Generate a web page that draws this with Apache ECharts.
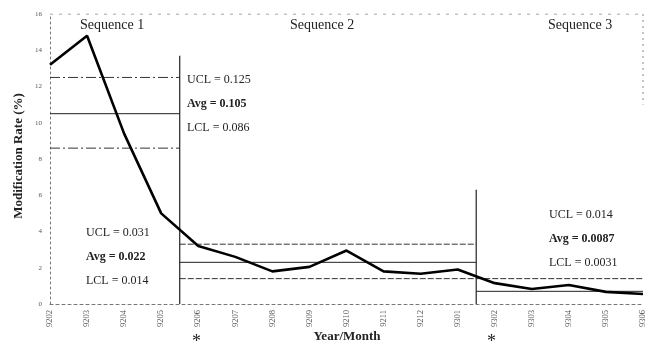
<!DOCTYPE html>
<html>
<head>
<meta charset="utf-8">
<script src="https://cdn.jsdelivr.net/npm/echarts@6/dist/echarts.min.js"></script>
<style>
html,body{margin:0;padding:0;background:#fff;}
#c{width:655px;height:348px;}
</style>
</head>
<body>
<div id="c"></div>
<script>
// Data
const categories = ['9202','9203','9204','9205','9206','9207','9208','9209','9210','9211','9212','9301','9302','9303','9304','9305','9306'];
const rate = [13.2, 14.8, 9.4, 5.0, 3.2, 2.6, 1.8, 2.05, 2.95, 1.8, 1.67, 1.9, 1.15, 0.83, 1.05, 0.67, 0.55];
const seqBounds = [0, 3.5, 11.5, 16];
const seqNames = ['Sequence 1', 'Sequence 2', 'Sequence 3'];
const uclVals = [12.5, 3.3, 1.4];
const avgVals = [10.5, 2.3, 0.7];
const lclVals = [8.6, 1.4, null];
const boundTop = [13.7, 6.3];
const yTicks = [0, 2, 4, 6, 8, 10, 12, 14, 16];

const serif = '"Liberation Serif", "DejaVu Serif", serif';
const chart = echarts.init(document.getElementById('c'), null, {renderer: 'canvas'});

function seg(x0, x1, v) { return [[x0, v], [x1, v]]; }

const series = [];
series.push({
  type: 'line', data: rate.map((v, i) => [i, v]), symbol: 'none',
  lineStyle: {color: '#000', width: 2.6}, z: 5, silent: true
});
for (let s = 0; s < 3; s++) {
  const x0 = seqBounds[s], x1 = seqBounds[s + 1];
  series.push({type: 'line', data: seg(x0, x1, uclVals[s]), symbol: 'none', silent: true,
    lineStyle: {color: '#333', width: 1, type: s === 0 ? [10, 3, 2, 3] : [6, 2]}});
  series.push({type: 'line', data: seg(x0, x1, avgVals[s]), symbol: 'none', silent: true,
    lineStyle: {color: '#222', width: 1}});
  if (lclVals[s] != null) {
    series.push({type: 'line', data: seg(x0, x1, lclVals[s]), symbol: 'none', silent: true,
      lineStyle: {color: '#333', width: 1, type: s === 0 ? [10, 3, 2, 3] : [6, 2]}});
  }
}
for (let b = 0; b < 2; b++) {
  series.push({type: 'line', data: [[seqBounds[b + 1], 0], [seqBounds[b + 1], boundTop[b]]], symbol: 'none', silent: true,
    lineStyle: {color: '#222', width: 1.2}});
}
// top border (dotted) and right edge
series.push({type: 'line', data: [[0, 16], [16, 16]], symbol: 'none', silent: true,
  lineStyle: {color: '#888', width: 1, type: [3, 6]}});
series.push({type: 'line', data: [[16, 16], [16, 11]], symbol: 'none', silent: true,
  lineStyle: {color: '#888', width: 1, type: [2, 4]}});

function txt(x, y, t, opt) {
  return Object.assign({type: 'text', left: x, top: y, style: Object.assign({text: t, font: '12px ' + serif, fill: '#222'}, opt || {})});
}

chart.setOption({
  animation: false,
  grid: {left: 50, right: 12, top: 14, bottom: 44, containLabel: false, outerBoundsMode: 'none'},
  xAxis: {
    type: 'value', min: 0, max: 16, interval: 1,
    axisLine: {show: true, lineStyle: {color: '#777', type: [3, 3], width: 1}},
    axisTick: {show: false},
    splitLine: {show: false},
    axisLabel: {rotate: 90, fontSize: 8.5, color: '#555', fontFamily: serif, margin: 6,
      formatter: v => categories[v] || ''}
  },
  yAxis: {
    type: 'value', min: 0, max: 16, interval: 2,
    axisLine: {show: true, lineStyle: {color: '#777', type: [2, 3], width: 1}},
    axisTick: {show: false},
    splitLine: {show: false},
    axisLabel: {fontSize: 7, color: '#555', fontFamily: serif, margin: 8,
      formatter: v => yTicks.includes(v) ? String(v) : ''}
  },
  series: series,
  graphic: [
    txt(80, 18, seqNames[0], {font: '14px ' + serif}),
    txt(290, 18, seqNames[1], {font: '14px ' + serif}),
    txt(548, 18, seqNames[2], {font: '14px ' + serif}),
    txt(187, 74, 'UCL = 0.125'),
    txt(187, 98, 'Avg = 0.105', {font: 'bold 12px ' + serif}),
    txt(187, 122, 'LCL = 0.086'),
    txt(86, 227, 'UCL = 0.031'),
    txt(86, 251, 'Avg = 0.022', {font: 'bold 12px ' + serif}),
    txt(86, 275, 'LCL = 0.014'),
    txt(549, 209, 'UCL = 0.014'),
    txt(549, 233, 'Avg = 0.0087', {font: 'bold 12px ' + serif}),
    txt(549, 257, 'LCL = 0.0031'),
    txt(192, 333, '*', {font: '18px ' + serif}),
    txt(487, 333, '*', {font: '18px ' + serif}),
    {type: 'text', x: 347, y: 337,
      style: {text: 'Year/Month', font: 'bold 13px ' + serif, fill: '#222', textAlign: 'center', textVerticalAlign: 'middle'}},
    {type: 'text', x: 19, y: 156, rotation: Math.PI / 2,
      style: {text: 'Modification Rate (%)', font: 'bold 13px ' + serif, fill: '#222', textAlign: 'center', textVerticalAlign: 'middle'}}
  ]
});
</script>
</body>
</html>
